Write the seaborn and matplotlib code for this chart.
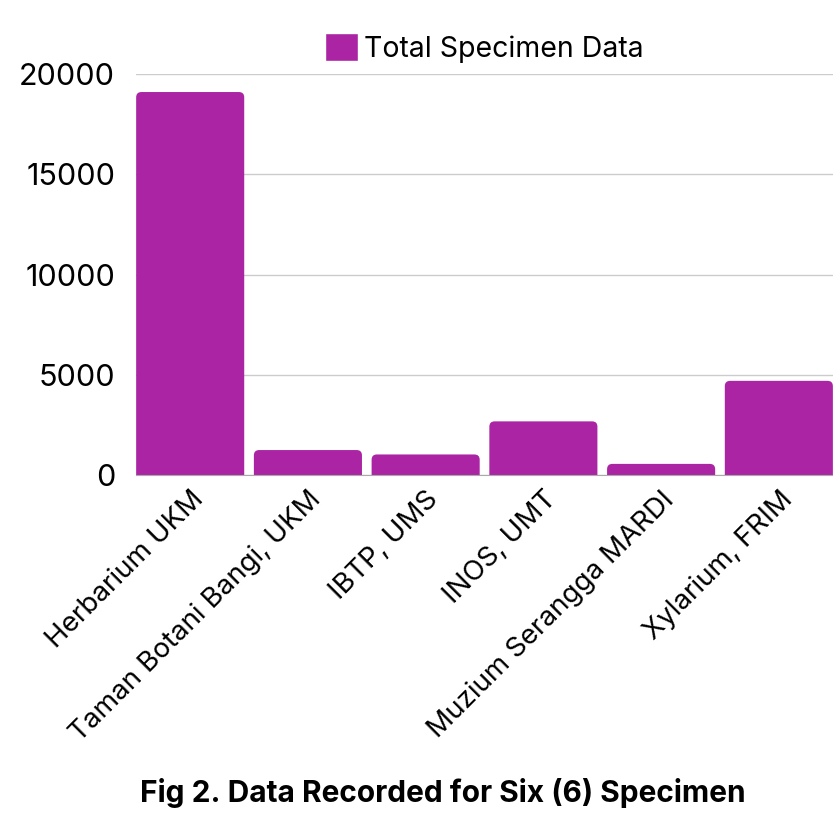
import numpy as np
import pandas as pd
import matplotlib.pyplot as plt
import seaborn as sns
from matplotlib.patches import FancyBboxPatch, Patch

# data
sites = ['Herbarium UKM', 'Taman Botani Bangi, UKM', 'IBTP, UMS',
         'INOS, UMT', 'Muzium Serangga MARDI', 'Xylarium, FRIM']
totals = [19100, 1250, 1030, 2680, 560, 4700]
yticks = [0, 5000, 10000, 15000, 20000]

bar_color = '#aa24a4'
df = pd.DataFrame({'site': sites, 'total': totals})

sns.set_style('white')
plt.rcParams['font.family'] = ['Inter', 'DejaVu Sans']
plt.rcParams['text.color'] = 'black'
plt.rcParams['xtick.color'] = 'black'
plt.rcParams['ytick.color'] = 'black'

fig = plt.figure(figsize=(8.33, 8.22), dpi=100)
ax = fig.add_axes([0.1633, 0.422, 0.8367, 0.488])

sns.barplot(data=df, x='site', y='total', color=bar_color, width=0.918,
            saturation=1, ax=ax, zorder=3)

ax.set_ylim(0, 20000)
ax.set_xlim(-0.46, 5.46)

# swap the plain bars for ones with rounded top corners
aspect = (20000 / 401) / (5.92 / 697)
for p in list(ax.patches):
    x, w, h = p.get_x(), p.get_width(), p.get_height()
    p.set_visible(False)
    r = 0.045
    ax.add_patch(FancyBboxPatch((x, -r * aspect), w, h + r * aspect,
                                boxstyle=f'round,pad=0,rounding_size={r}',
                                mutation_aspect=aspect, facecolor=bar_color,
                                edgecolor='none', zorder=3))

ax.set_yticks(yticks)
ax.set_yticklabels([str(v) for v in yticks], fontsize=22)
ax.yaxis.grid(True, color='#cccccc', linewidth=1, zorder=0)
ax.set_axisbelow(True)
for s in ['top', 'right', 'left']:
    ax.spines[s].set_visible(False)
ax.spines['bottom'].set_color('#aaaaaa')
ax.spines['bottom'].set_zorder(4)
ax.tick_params(axis='y', length=0, pad=15)
ax.tick_params(axis='x', length=0, pad=8)
ax.set_xticks(range(len(sites)))
ax.set_xticklabels(sites, rotation=45, ha='right', rotation_mode='anchor', fontsize=20)
ax.set_xlabel('')
ax.set_ylabel('')

ax.legend(handles=[Patch(facecolor=bar_color, label='Total Specimen Data')],
          loc='center', bbox_to_anchor=(0.5, 1 + 26 / 401), frameon=False,
          fontsize=20.5, handlelength=1.15, handleheight=1.15, handletextpad=0.2)

fig.text(0.532, 1 - 793 / 822, 'Fig 2. Data Recorded for Six (6) Specimen',
         ha='center', va='center', fontsize=21.5, fontweight='bold')

plt.savefig('out.png', dpi=100)
